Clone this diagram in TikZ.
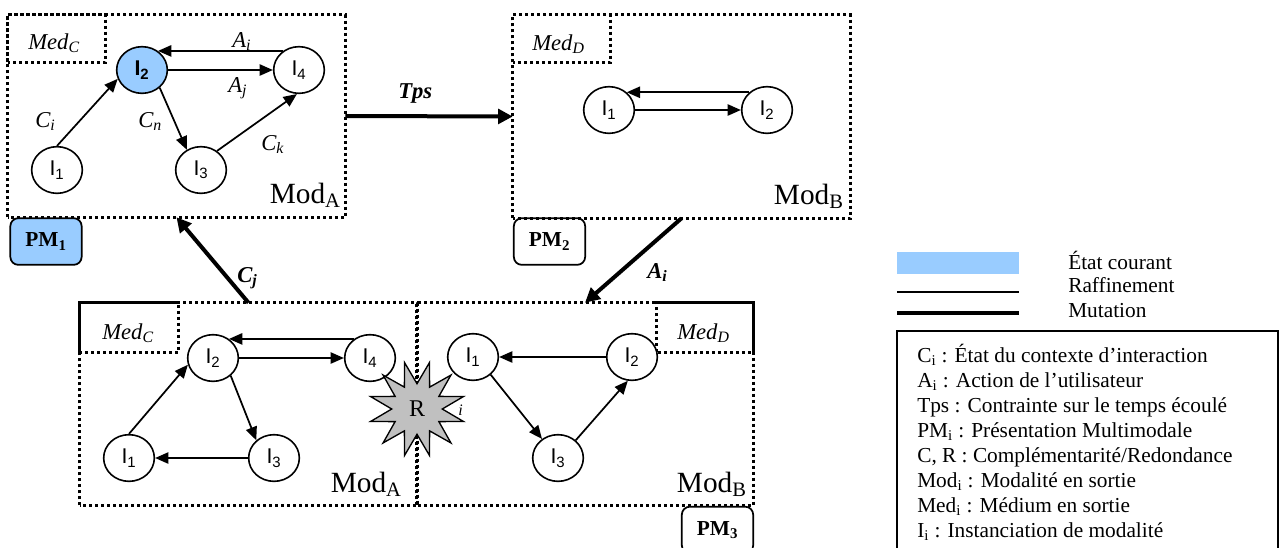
\documentclass[tikz,border=0pt]{standalone}
\usepackage{fontspec}
\setmainfont{Liberation Serif}
\newfontfamily\arialfont{Liberation Sans}
\usetikzlibrary{arrows.meta,shapes.geometric,fit}
\definecolor{curblue}{HTML}{99CCFF}
\definecolor{stargray}{HTML}{C0C0C0}

\begin{document}
\begin{tikzpicture}[x=0.75pt,y=-0.75pt,
  inst/.style={ellipse, draw, line width=1.2pt, minimum width=38pt,
    minimum height=35pt, inner sep=0pt, fill=white,
    font=\arialfont\fontsize{16}{19}\selectfont},
  panel/.style={inner sep=0pt},
  dotline/.style={line width=2.4pt, dash pattern=on 2.3pt off 2.2pt},
  refine/.style={line width=1.3pt, -{Triangle[length=10pt,width=8.5pt]}},
  mutate/.style={line width=3pt, -{Triangle[length=11pt,width=11pt]}},
  lbl/.style={inner sep=0pt, anchor=base west,
    font=\fontsize{17}{20}\selectfont\itshape},
  boldlbl/.style={lbl, font=\fontsize{17}{20}\selectfont\bfseries\itshape},
  modlbl/.style={inner sep=0pt, anchor=base east,
    font=\fontsize{22}{26}\selectfont},
  pmbox/.style={draw, rounded corners=6pt, line width=1.3pt,
    minimum width=53.5pt, minimum height=35pt, inner sep=0pt,
    font=\fontsize{16}{19}\selectfont\bfseries},
  keytext/.style={inner sep=0pt, anchor=base west,
    font=\fontsize{16}{19}\selectfont},
]
\useasboundingbox (0,0) rectangle (1281,547);

% ---------- PM1 : presentation with modality A ----------
\node[panel, fit={(8,15) (345,217)}] (PA) {};
\node[panel, fit={(8,15) (105,62)}] (PAmed) {};
\draw[dotline] (PA.south west) rectangle (PA.north east);
\draw[dotline] (PAmed.south west) rectangle (PAmed.north east);
\node[lbl] (PAmedt) at (28,49) {Med\textsubscript{C}};
\node[inst, fill=curblue] (a2) at (142,70) {\textbf{I\textsubscript{2}}};
\node[inst] (a1) at (57,170) {I\textsubscript{1}};
\node[inst] (a3) at (201,170) {I\textsubscript{3}};
\node[inst] (a4) at (299,70) {I\textsubscript{4}};
\draw[refine] (a1.north) -- (a2.200);
\draw[refine] (a2) -- (a4);
\draw[refine] (a4.130) -- (a2.50);
\draw[refine] (a2.-45) -- (a3.125);
\draw[refine] (a3.50) -- (a4.-95);
\node[lbl] (lAi) at (232,47) {A\textsubscript{i}};
\node[lbl] (lAj) at (228,92) {A\textsubscript{j}};
\node[lbl] (lCi) at (35,127) {C\textsubscript{i}};
\node[lbl] (lCn) at (138,127) {C\textsubscript{n}};
\node[lbl] (lCk) at (261,150) {C\textsubscript{k}};
\node[modlbl] (PAmod) at (341,203) {Mod\textsubscript{A}};
\node[pmbox, fill=curblue] (pm1) at (46,241.5) {PM\textsubscript{1}};

% ---------- PM2 : presentation with modality B ----------
\node[panel, fit={(513,15) (850,218)}] (PB) {};
\node[panel, fit={(513,15) (610,62)}] (PBmed) {};
\draw[dotline] (PB.south west) rectangle (PB.north east);
\draw[dotline] (PBmed.south west) rectangle (PBmed.north east);
\node[lbl] (PBmedt) at (532,50) {Med\textsubscript{D}};
\node[inst] (b1) at (609,110) {I\textsubscript{1}};
\node[inst] (b2) at (767,110) {I\textsubscript{2}};
\draw[refine] (b1) -- (b2);
\draw[refine] (b2.135) -- (b1.45);
\node[modlbl] (PBmod) at (844,204) {Mod\textsubscript{B}};
\node[pmbox] (pm2) at (549.5,241.5) {PM\textsubscript{2}};

% ---------- PM3 : combined modalities A and B ----------
\node[panel, fit={(80,303) (417,505)}] (PC) {};
\node[panel, fit={(80,303) (178,352)}] (PCmed) {};
\draw[dotline] (PC.south west) rectangle (PC.north east);
\draw[dotline] (PCmed.south west) rectangle (PCmed.north east);
\node[lbl] (PCmedt) at (102,339) {Med\textsubscript{C}};
\node[inst] (c1) at (129,458) {I\textsubscript{1}};
\node[inst] (c2) at (213,358) {I\textsubscript{2}};
\node[inst] (c3) at (274,458) {I\textsubscript{3}};
\node[inst] (c4) at (370,358) {I\textsubscript{4}};
\draw[refine] (c1.north) -- (c2.195);
\draw[refine] (c2) -- (c4);
\draw[refine] (c4.130) -- (c2.50);
\draw[refine] (c2.-45) -- (c3.135);
\draw[refine] (c3) -- (c1);
\node[modlbl] (PCmod) at (402,492) {Mod\textsubscript{A}};

\node[panel, fit={(417,303) (753,505)}] (PD) {};
\node[panel, fit={(657,303) (753,352)}] (PDmed) {};
\draw[dotline] (PD.south west) rectangle (PD.north east);
\draw[dotline] (PDmed.south west) rectangle (PDmed.north east);
\node[lbl] (PDmedt) at (677,339) {Med\textsubscript{D}};
\node[inst] (d1) at (473,357) {I\textsubscript{1}};
\node[inst] (d2) at (632,357) {I\textsubscript{2}};
\node[inst] (d3) at (558,458) {I\textsubscript{3}};
\draw[refine] (d2) -- (d1);
\draw[refine] (d1.-45) -- (d3.130);
\draw[refine] (d3.45) -- (d2.-100);
\node[modlbl] (PDmod) at (747,492) {Mod\textsubscript{B}};
\node[pmbox] (pm3) at (717.5,530) {PM\textsubscript{3}};

% redundancy between the two modalities (a label partly hidden by it)
\node[inner sep=0pt, anchor=base west, font=\fontsize{12}{14}\selectfont\itshape]
  (lCr) at (458,415) {i};
\node[star, star points=12, star point ratio=1.9, minimum size=72pt,
  shape border rotate=15,
  draw, line width=1pt, fill=stargray, inner sep=0pt,
  font=\fontsize{18}{21}\selectfont] (R) at (417,409) {R};

% ---------- mutations ----------
\draw[mutate] (PA.east) -- (PB.west);
\node[boldlbl] (lTps) at (398,98) {Tps};
\draw[mutate] (PC.north) -- (PA.south);
\node[boldlbl] (lCj) at (237,282) {C\textsubscript{j}};
\draw[mutate] (PB.south) -- (PD.north);
\node[boldlbl] (lAim) at (647,278) {A\textsubscript{i}};

% ---------- key ----------
\node[fill=curblue, minimum width=91.5pt, minimum height=16.5pt,
  inner sep=0pt] (kcur) at (958,263) {};
\coordinate (kthinA) at (897,292);
\coordinate (kthinB) at (1019,292);
\coordinate (kthickA) at (897,313);
\coordinate (kthickB) at (1019,313);
\draw[line width=1.4pt] (kthinA) -- (kthinB);
\draw[line width=3pt] (kthickA) -- (kthickB);
\node[keytext] (tcur) at (1068,269) {État courant};
\node[keytext] (tref) at (1068,292) {Raffinement};
\node[keytext] (tmut) at (1068,317) {Mutation};

\draw[line width=1.4pt] (897,552) -- (897,331) -- (1278,331) -- (1278,552);
\node[keytext] (g1) at (917,362) {C\textsubscript{i} : État du contexte d’interaction};
\node[keytext] (g2) at (917,387) {A\textsubscript{i} : Action de l’utilisateur};
\node[keytext] (g3) at (917,412) {Tps : Contrainte sur le temps écoulé};
\node[keytext] (g4) at (917,437) {PM\textsubscript{i} : Présentation Multimodale};
\node[keytext] (g5) at (917,462) {C, R : Complémentarité/Redondance};
\node[keytext] (g6) at (917,487) {Mod\textsubscript{i} : Modalité en sortie};
\node[keytext] (g7) at (917,512) {Med\textsubscript{i} : Médium en sortie};
\node[keytext] (g8) at (917,537) {I\textsubscript{i} : Instanciation de modalité};
\end{tikzpicture}
\end{document}
